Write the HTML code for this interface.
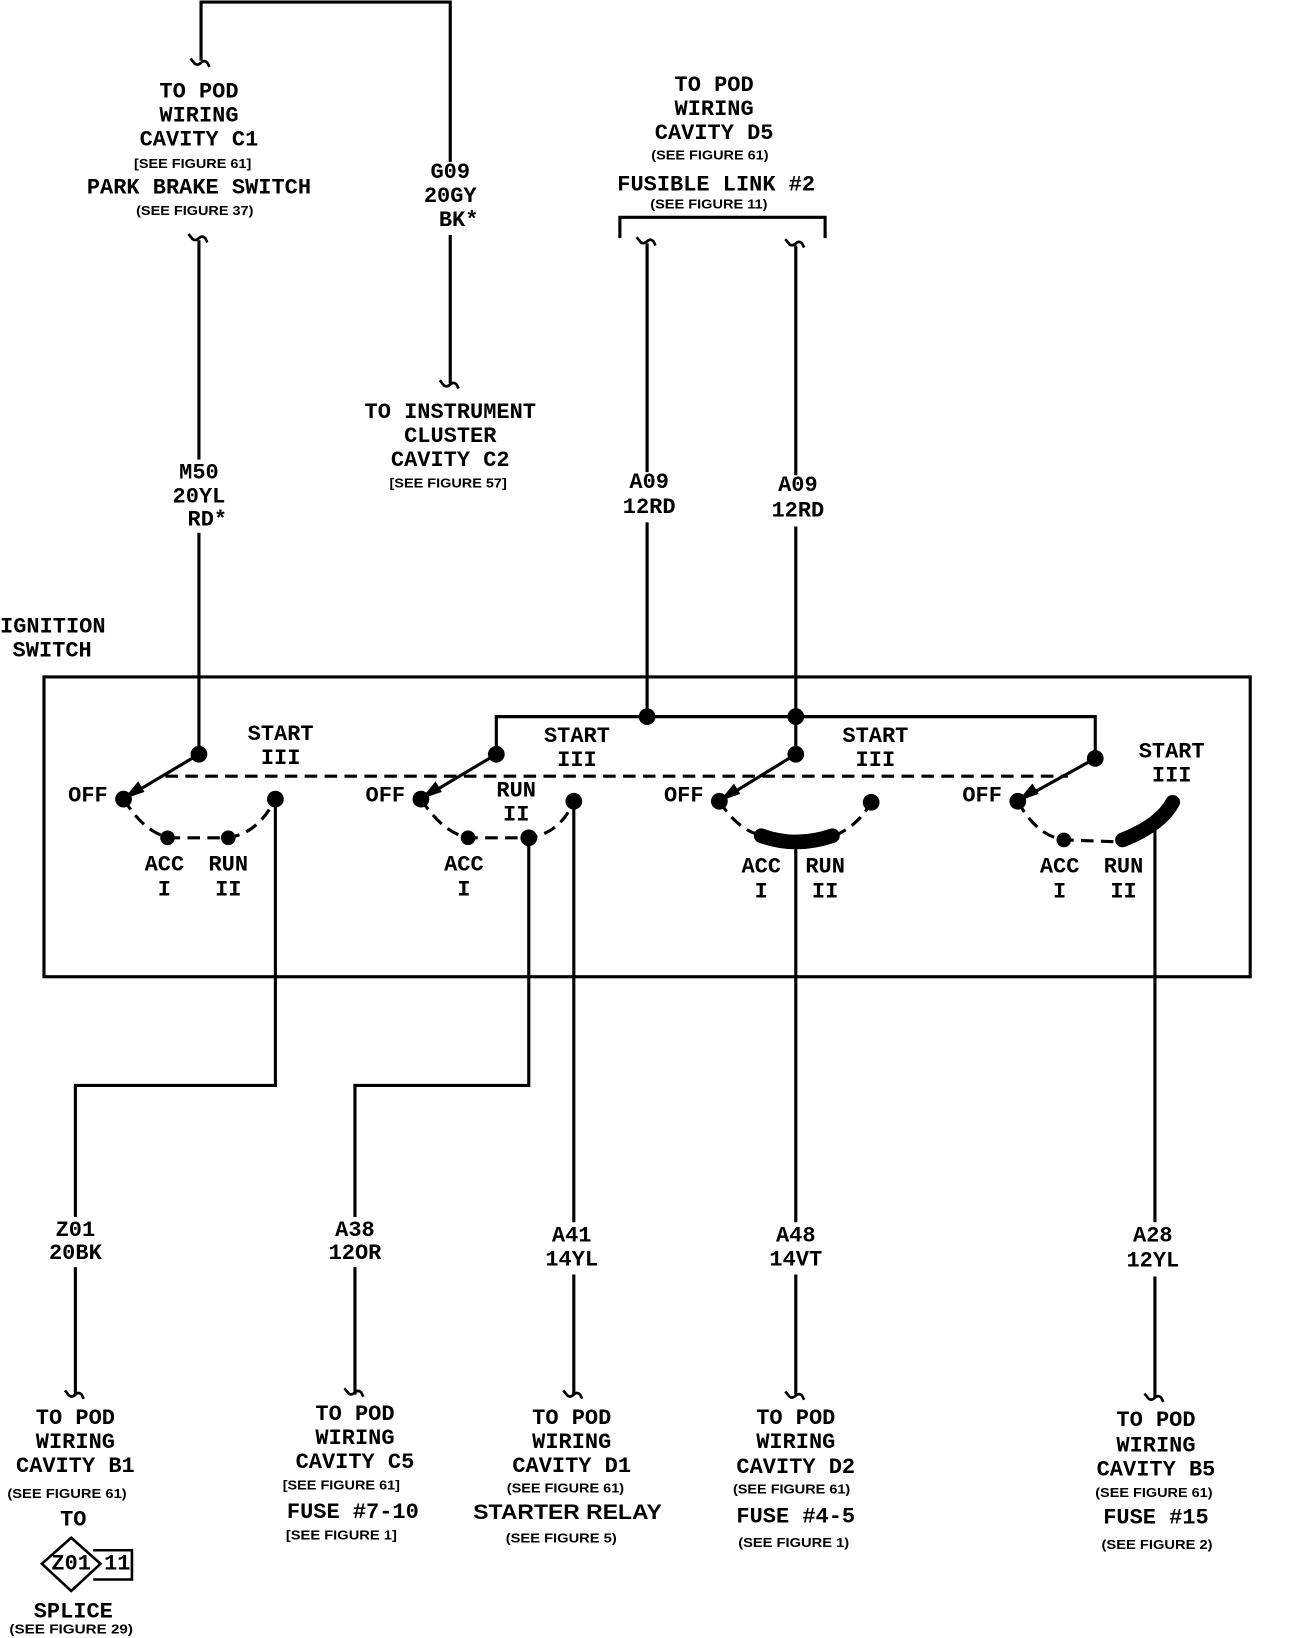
<!DOCTYPE html>
<html><head><meta charset="utf-8"><style>
html,body{margin:0;padding:0;background:#fff;}
svg{display:block;}
.t{font-family:"Liberation Mono",monospace;font-weight:bold;font-size:21px;fill:#000;}
.s{font-family:"Liberation Sans",sans-serif;font-weight:bold;font-size:12px;fill:#000;}
.b{font-family:"Liberation Sans",sans-serif;font-weight:bold;font-size:20px;fill:#000;}
</style></head><body>
<svg width="1312" height="1638" viewBox="0 0 1253 1568" preserveAspectRatio="none" xmlns="http://www.w3.org/2000/svg">
<defs>
<path id="sq" d="M-10,-6 l4,5 q3,2 6,-1 q3,-3 6,0 l2,4" fill="none" stroke="#000" stroke-width="2.5"/>
</defs>
<g stroke="#000" stroke-width="3" fill="none">
<!-- top wires -->
<polyline points="192,58 192,2 430,2 430,155"/>
<line x1="430" y1="225" x2="430" y2="367"/>
<line x1="190" y1="230" x2="190" y2="440"/>
<line x1="190" y1="510" x2="190" y2="722"/>
<polyline points="592,228 592,208 788,208 788,228"/>
<line x1="618" y1="233" x2="618" y2="452"/>
<line x1="618" y1="500" x2="618" y2="686"/>
<line x1="760" y1="235" x2="760" y2="455"/>
<line x1="760" y1="504" x2="760" y2="722"/>
<!-- box -->
<rect x="42" y="648" width="1152" height="287"/>
<polyline points="474,722 474,686 1046,686 1046,722"/>
<!-- blades -->
<line x1="190" y1="722" x2="118" y2="765"/>
<line x1="474" y1="722" x2="402" y2="765"/>
<line x1="760" y1="722" x2="687" y2="767"/>
<line x1="1046" y1="726" x2="972" y2="767"/>
<!-- bottom wires -->
<polyline points="263,765 263,1039 72,1039 72,1165"/>
<line x1="72" y1="1213" x2="72" y2="1335"/>
<polyline points="505,802 505,1039 339,1039 339,1165"/>
<line x1="339" y1="1213" x2="339" y2="1335"/>
<line x1="548" y1="767" x2="548" y2="1170"/>
<line x1="548" y1="1220" x2="548" y2="1335"/>
<line x1="760" y1="805" x2="760" y2="1170"/>
<line x1="760" y1="1220" x2="760" y2="1335"/>
<line x1="1103" y1="790" x2="1103" y2="1170"/>
<line x1="1103" y1="1222" x2="1103" y2="1338"/>
</g>
<!-- dashed -->
<g stroke="#000" stroke-width="3" fill="none" stroke-dasharray="12,7">
<line x1="158" y1="743" x2="1020" y2="743"/>
<path d="M118,765 Q140,800 165,802 L215,802 Q245,800 263,765"/>
<path d="M402,765 Q425,800 450,802 L505,802 Q535,798 548,767"/>
<path d="M687,767 Q705,795 728,800 M797,800 Q820,790 832,768"/>
<path d="M972,767 Q990,800 1016,804 L1072,806"/>
</g>
<!-- thick arcs -->
<g stroke="#000" stroke-width="14" fill="none" stroke-linecap="round">
<path d="M727,800 Q760,812 795,800"/>
<path d="M1072,804 Q1108,790 1120,768"/>
</g>
<!-- arrowheads -->
<g fill="#000">
<polygon points="118,765 132,748 138,758"/>
<polygon points="402,765 416,748 422,758"/>
<polygon points="687,767 701,750 707,760"/>
<polygon points="972,767 986,750 992,760"/>
</g>
<!-- dots -->
<g fill="#000">
<circle cx="190" cy="722" r="8"/><circle cx="118" cy="765" r="8"/><circle cx="160" cy="802" r="7"/><circle cx="218" cy="802" r="7"/><circle cx="263" cy="765" r="8"/>
<circle cx="474" cy="722" r="8"/><circle cx="402" cy="765" r="8"/><circle cx="447" cy="802" r="7"/><circle cx="505" cy="802" r="8"/><circle cx="548" cy="767" r="8"/>
<circle cx="618" cy="686" r="8"/><circle cx="760" cy="686" r="8"/>
<circle cx="760" cy="722" r="8"/><circle cx="687" cy="767" r="8"/><circle cx="832" cy="768" r="8"/>
<circle cx="1046" cy="726" r="8"/><circle cx="972" cy="767" r="8"/><circle cx="1016" cy="804" r="7"/>
</g>
<!-- squiggles -->
<use href="#sq" x="192" y="62"/>
<use href="#sq" x="190" y="230"/>
<use href="#sq" x="430" y="370"/>
<use href="#sq" x="618" y="233"/>
<use href="#sq" x="760" y="235"/>
<use href="#sq" x="72" y="1337"/>
<use href="#sq" x="339" y="1335"/>
<use href="#sq" x="548" y="1337"/>
<use href="#sq" x="760" y="1338"/>
<use href="#sq" x="1103" y="1340"/>
<!-- splice symbol -->
<polygon points="68,1472 96,1497 68,1523 40,1497" fill="none" stroke="#000" stroke-width="2.5"/>
<polyline points="89,1484 126,1484 126,1512 89,1512" fill="none" stroke="#000" stroke-width="2.5"/>
<g text-anchor="middle" dominant-baseline="central">
<text class="t" x="190" y="88">TO POD</text>
<text class="t" x="190" y="111">WIRING</text>
<text class="t" x="190" y="134">CAVITY C1</text>
<text class="s" x="184" y="157" textLength="112" lengthAdjust="spacingAndGlyphs">[SEE FIGURE 61]</text>
<text class="t" x="190" y="180">PARK BRAKE SWITCH</text>
<text class="s" x="186" y="202" textLength="112" lengthAdjust="spacingAndGlyphs">(SEE FIGURE 37)</text>
<text class="t" x="430" y="165">G09</text>
<text class="t" x="430" y="188">20GY</text>
<text class="t" x="438" y="211">BK*</text>
<text class="t" x="430" y="395">TO INSTRUMENT</text>
<text class="t" x="430" y="418">CLUSTER</text>
<text class="t" x="430" y="441">CAVITY C2</text>
<text class="s" x="428" y="463" textLength="112" lengthAdjust="spacingAndGlyphs">[SEE FIGURE 57]</text>
<text class="t" x="190" y="453">M50</text>
<text class="t" x="190" y="476">20YL</text>
<text class="t" x="198" y="498">RD*</text>
<text class="t" x="682" y="82">TO POD</text>
<text class="t" x="682" y="105">WIRING</text>
<text class="t" x="682" y="128">CAVITY D5</text>
<text class="s" x="678" y="149" textLength="112" lengthAdjust="spacingAndGlyphs">(SEE FIGURE 61)</text>
<text class="t" x="684" y="177">FUSIBLE LINK #2</text>
<text class="s" x="677" y="196" textLength="112" lengthAdjust="spacingAndGlyphs">(SEE FIGURE 11)</text>
<text class="t" x="620" y="462">A09</text>
<text class="t" x="620" y="486">12RD</text>
<text class="t" x="762" y="465">A09</text>
<text class="t" x="762" y="489">12RD</text>
<!-- switch labels -->
<text class="t" x="268" y="703">START</text><text class="t" x="268" y="726">III</text>
<text class="t" x="84" y="762">OFF</text>
<text class="t" x="157" y="828">ACC</text><text class="t" x="157" y="852">I</text>
<text class="t" x="218" y="828">RUN</text><text class="t" x="218" y="852">II</text>
<text class="t" x="551" y="705">START</text><text class="t" x="551" y="728">III</text>
<text class="t" x="368" y="762">OFF</text>
<text class="t" x="493" y="757">RUN</text><text class="t" x="493" y="780">II</text>
<text class="t" x="443" y="828">ACC</text><text class="t" x="443" y="852">I</text>
<text class="t" x="836" y="705">START</text><text class="t" x="836" y="728">III</text>
<text class="t" x="653" y="762">OFF</text>
<text class="t" x="727" y="830">ACC</text><text class="t" x="727" y="854">I</text>
<text class="t" x="788" y="830">RUN</text><text class="t" x="788" y="854">II</text>
<text class="t" x="1119" y="720">START</text><text class="t" x="1119" y="743">III</text>
<text class="t" x="938" y="762">OFF</text>
<text class="t" x="1012" y="830">ACC</text><text class="t" x="1012" y="854">I</text>
<text class="t" x="1073" y="830">RUN</text><text class="t" x="1073" y="854">II</text>
<!-- wire labels -->
<text class="t" x="72" y="1178">Z01</text><text class="t" x="72" y="1200">20BK</text>
<text class="t" x="339" y="1178">A38</text><text class="t" x="339" y="1200">12OR</text>
<text class="t" x="546" y="1183">A41</text><text class="t" x="546" y="1206">14YL</text>
<text class="t" x="760" y="1183">A48</text><text class="t" x="760" y="1206">14VT</text>
<text class="t" x="1101" y="1183">A28</text><text class="t" x="1101" y="1207">12YL</text>
<!-- bottom -->
<text class="t" x="72" y="1358">TO POD</text><text class="t" x="72" y="1381">WIRING</text><text class="t" x="72" y="1404">CAVITY B1</text>
<text class="s" x="64" y="1430" textLength="114" lengthAdjust="spacingAndGlyphs">(SEE FIGURE 61)</text>
<text class="t" x="70" y="1455">TO</text>
<text class="t" x="68" y="1497" font-size="17">Z01</text>
<text class="t" x="112" y="1497" font-size="18">11</text>
<text class="t" x="70" y="1543">SPLICE</text>
<text class="s" x="68" y="1560" textLength="118" lengthAdjust="spacingAndGlyphs">(SEE FIGURE 29)</text>
<text class="t" x="339" y="1354">TO POD</text><text class="t" x="339" y="1377">WIRING</text><text class="t" x="339" y="1400">CAVITY C5</text>
<text class="s" x="326" y="1422" textLength="112" lengthAdjust="spacingAndGlyphs">[SEE FIGURE 61]</text>
<text class="t" x="337" y="1448">FUSE #7-10</text>
<text class="s" x="326" y="1470" textLength="106" lengthAdjust="spacingAndGlyphs">[SEE FIGURE 1]</text>
<text class="t" x="546" y="1358">TO POD</text><text class="t" x="546" y="1381">WIRING</text><text class="t" x="546" y="1404">CAVITY D1</text>
<text class="s" x="540" y="1425" textLength="112" lengthAdjust="spacingAndGlyphs">(SEE FIGURE 61)</text>
<text class="b" x="542" y="1448" textLength="180" lengthAdjust="spacingAndGlyphs">STARTER RELAY</text>
<text class="s" x="536" y="1473" textLength="106" lengthAdjust="spacingAndGlyphs">(SEE FIGURE 5)</text>
<text class="t" x="760" y="1358">TO POD</text><text class="t" x="760" y="1381">WIRING</text><text class="t" x="760" y="1405">CAVITY D2</text>
<text class="s" x="756" y="1426" textLength="112" lengthAdjust="spacingAndGlyphs">(SEE FIGURE 61)</text>
<text class="t" x="760" y="1452">FUSE #4-5</text>
<text class="s" x="758" y="1477" textLength="106" lengthAdjust="spacingAndGlyphs">(SEE FIGURE 1)</text>
<text class="t" x="1104" y="1360">TO POD</text><text class="t" x="1104" y="1384">WIRING</text><text class="t" x="1104" y="1407">CAVITY B5</text>
<text class="s" x="1102" y="1429" textLength="112" lengthAdjust="spacingAndGlyphs">(SEE FIGURE 61)</text>
<text class="t" x="1104" y="1453">FUSE #15</text>
<text class="s" x="1105" y="1479" textLength="106" lengthAdjust="spacingAndGlyphs">(SEE FIGURE 2)</text>
</g>
<text class="t" x="0" y="600" dominant-baseline="central">IGNITION</text>
<text class="t" x="12" y="623" dominant-baseline="central">SWITCH</text>
</svg>
</body></html>
